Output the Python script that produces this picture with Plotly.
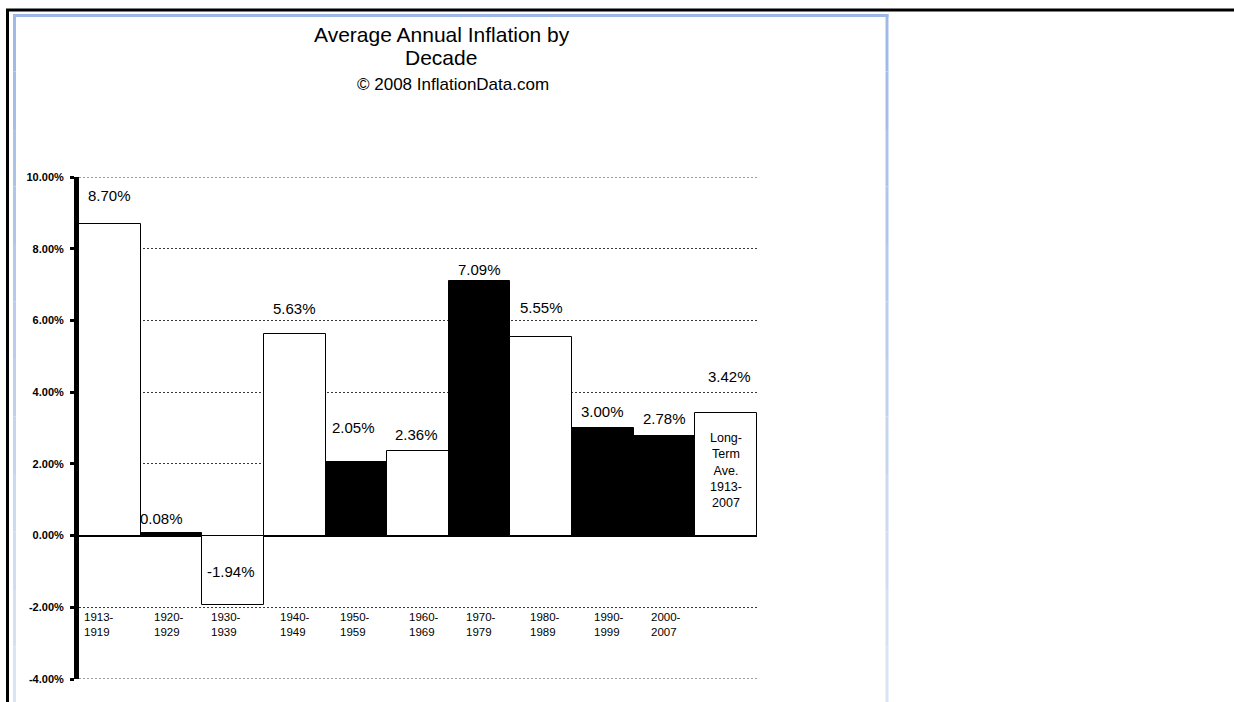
import plotly.graph_objects as go

# ---- data -------------------------------------------------------------
decades = ["1913-1919", "1920-1929", "1930-1939", "1940-1949", "1950-1959",
           "1960-1969", "1970-1979", "1980-1989", "1990-1999", "2000-2007",
           "Long-Term Ave. 1913-2007"]
decade_labels = ["1913-<br>1919", "1920-<br>1929", "1930-<br>1939", "1940-<br>1949",
                 "1950-<br>1959", "1960-<br>1969", "1970-<br>1979", "1980-<br>1989",
                 "1990-<br>1999", "2000-<br>2007", ""]
inflation = [8.70, 0.08, -1.94, 5.63, 2.05, 2.36, 7.09, 5.55, 3.00, 2.78, 3.42]
bar_fill = ["white", "black", "white", "white", "black", "white",
            "black", "white", "black", "black", "white"]
long_term_text = "Long-<br>Term<br>Ave.<br>1913-<br>2007"

y_min, y_max = -4, 10
tick_vals = [-4, -2, 0, 2, 4, 6, 8, 10]
tick_text = ["-4.00%", "-2.00%", "0.00%", "2.00%", "4.00%", "6.00%", "8.00%", "10.00%"]

# ---- label placement (pixel nudges) ------------------------------------
label_yshift = [28, 14, 34, 25, 35, 16, 12, 29, 17, 17, 36]
label_xshift = [0, -10, -2, 0, -3, -2, 0, 0, 0, 0, 3]
cat_label_xshift = [-28, -19, -24, -17, -18, -11, -16, -13, -11, -16, 0]

W, H = 1234, 702
L, R, T, B = 79, 757, 177, 679   # plot area in pixels


def px(x):
    return (x - L) / (R - L)


def py(y):
    return (B - y) / (B - T)


NARROW = "Liberation Sans Narrow, Arial Narrow, Liberation Sans, Arial"
SANS = "Liberation Sans, Arial, sans-serif"
GRID = dict(color="#3a3a3a", width=1, dash="2px,2px")

fig = go.Figure()
fig.add_trace(go.Bar(
    x=decades, y=inflation,
    marker=dict(color=bar_fill, line=dict(color="black", width=1)),
    hoverinfo="skip",
))

# value labels
for cat, val, dy, dx in zip(decades, inflation, label_yshift, label_xshift):
    fig.add_annotation(x=cat, y=val, text=f"{val:.2f}%", showarrow=False,
                       yshift=dy, xshift=dx, yanchor="middle",
                       font=dict(family=SANS, size=15, color="black"))

# category labels under the -2% line
for cat, lab, dx in zip(decades, decade_labels, cat_label_xshift):
    if lab:
        fig.add_annotation(x=cat, y=-2, text=lab, showarrow=False, align="left",
                           xanchor="left", yanchor="top", yshift=-2, xshift=dx,
                           font=dict(family=SANS, size=11.5, color="black"))

# label inside the long-term bar
fig.add_annotation(x=decades[-1], y=inflation[-1] / 2, text=long_term_text,
                   showarrow=False, align="center", yshift=4,
                   font=dict(family=SANS, size=12.5, color="black"))

# title block
title_lines = [("Average Annual Inflation by", 34, 21, 442),
               ("Decade", 57, 21, 441),
               ("\u00a9 2008 InflationData.com", 85, 17, 453)]
for txt, ypix, size, xpix in title_lines:
    fig.add_annotation(xref="paper", yref="paper", x=px(xpix), y=py(ypix),
                       text=txt, showarrow=False, xanchor="center", yanchor="middle",
                       font=dict(family=SANS, size=size, color="black"))

# dotted gridlines on the top and bottom edges of the value range
for yv in (y_min, y_max):
    fig.add_shape(type="line", xref="paper", yref="y", x0=0, x1=1, y0=yv, y1=yv,
                  line=GRID, layer="below")

# outer black frame
fig.add_shape(type="line", xref="paper", yref="paper", x0=px(6), x1=px(1236),
              y0=py(10), y1=py(10), line=dict(color="black", width=3))
fig.add_shape(type="line", xref="paper", yref="paper", x0=px(7.5), x1=px(7.5),
              y0=py(9), y1=py(704), line=dict(color="black", width=3))


# inner blue frame, fading toward the bottom
def mix(c0, c1, t):
    return "rgb({},{},{})".format(*[round(a + (b - a) * t) for a, b in zip(c0, c1)])


top_blue = (157, 184, 230)
low_blue = (222, 230, 245)
fig.add_shape(type="line", xref="paper", yref="paper", x0=px(13), x1=px(888.5),
              y0=py(15.5), y1=py(15.5), line=dict(color=mix(top_blue, low_blue, 0), width=3))
n = 12
for i in range(n):
    y0 = 14 + (704 - 14) * i / n
    y1 = 14 + (704 - 14) * (i + 1) / n
    c = mix(top_blue, low_blue, (i + 0.5) / n)
    for xx in (14.5, 887):
        fig.add_shape(type="line", xref="paper", yref="paper", x0=px(xx), x1=px(xx),
                      y0=py(y0), y1=py(y1), line=dict(color=c, width=3))

fig.update_layout(
    width=W, height=H,
    margin=dict(l=L, r=W - R, t=T, b=H - B, pad=0),
    paper_bgcolor="white", plot_bgcolor="white",
    showlegend=False, bargap=0,
    xaxis=dict(showticklabels=False, showgrid=False, showline=False, ticks="",
               zeroline=False, fixedrange=True),
    yaxis=dict(range=[y_min, y_max], tickvals=tick_vals, ticktext=tick_text,
               showgrid=True, gridcolor=GRID["color"], gridwidth=1, griddash=GRID["dash"],
               zeroline=True, zerolinecolor="black", zerolinewidth=2,
               showline=True, linecolor="black", linewidth=5,
               ticks="outside", ticklen=4, tickwidth=3, tickcolor="black",
               ticklabelstandoff=4,
               tickfont=dict(family=NARROW, size=11, color="black", weight="bold"),
               fixedrange=True),
)

fig.write_html("out.html")
